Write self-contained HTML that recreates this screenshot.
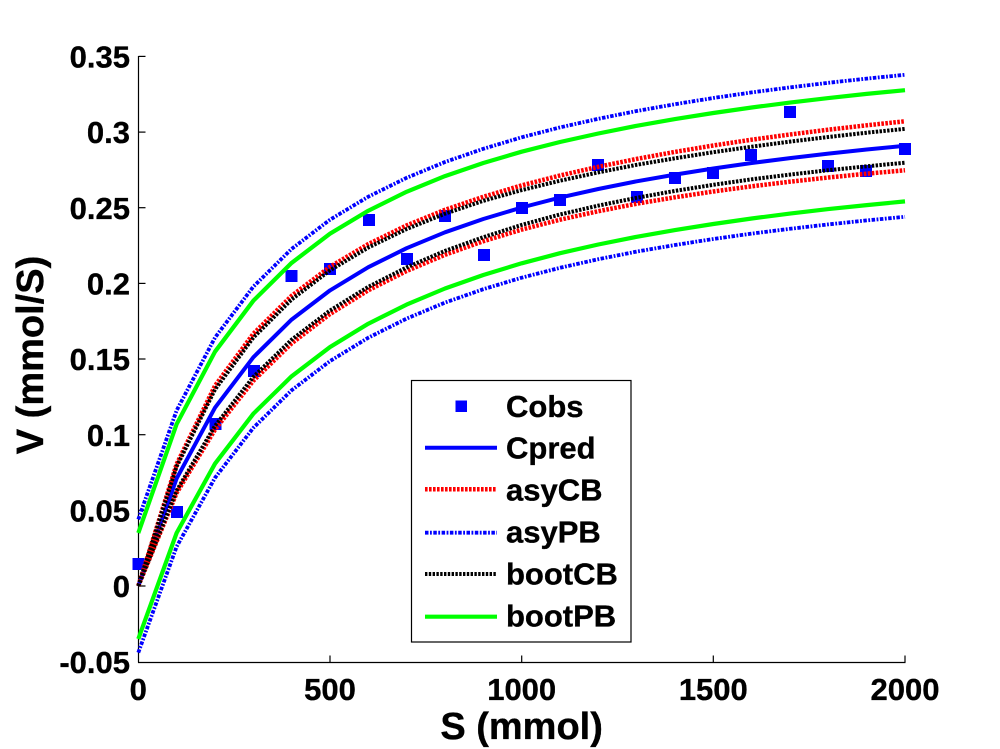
<!DOCTYPE html>
<html>
<head>
<meta charset="utf-8">
<style>
html,body{margin:0;padding:0;background:#fff;}
svg{display:block;}
text{font-family:"Liberation Sans",Arial,sans-serif;font-weight:bold;fill:#000;stroke:#000;stroke-width:0.35px;}
</style>
</head>
<body>
<svg width="1000" height="749" viewBox="0 0 1000 749" xmlns="http://www.w3.org/2000/svg">
<rect x="0" y="0" width="1000" height="749" fill="#fff"/>

<!-- axes -->
<g stroke="#000" stroke-width="1.2" fill="none">
  <line x1="138.5" y1="56" x2="138.5" y2="662.5"/>
  <line x1="138" y1="662.5" x2="905.5" y2="662.5"/>
  <line x1="138.5" y1="56.4" x2="145.5" y2="56.4"/>
  <line x1="138.5" y1="132.1" x2="145.5" y2="132.1"/>
  <line x1="138.5" y1="207.7" x2="145.5" y2="207.7"/>
  <line x1="138.5" y1="283.4" x2="145.5" y2="283.4"/>
  <line x1="138.5" y1="359.0" x2="145.5" y2="359.0"/>
  <line x1="138.5" y1="434.7" x2="145.5" y2="434.7"/>
  <line x1="138.5" y1="510.3" x2="145.5" y2="510.3"/>
  <line x1="138.5" y1="586.0" x2="145.5" y2="586.0"/>
  <line x1="330" y1="662.5" x2="330" y2="655.5"/>
  <line x1="521.7" y1="662.5" x2="521.7" y2="655.5"/>
  <line x1="713.3" y1="662.5" x2="713.3" y2="655.5"/>
  <line x1="905" y1="662.5" x2="905" y2="655.5"/>
</g>

<g font-size="31" text-anchor="end">
  <text x="130" y="67.5">0.35</text>
  <text x="130" y="143.2">0.3</text>
  <text x="130" y="218.8">0.25</text>
  <text x="130" y="294.5">0.2</text>
  <text x="130" y="370.1">0.15</text>
  <text x="130" y="445.8">0.1</text>
  <text x="130" y="521.4">0.05</text>
  <text x="130" y="597.1">0</text>
  <text x="130" y="673">-0.05</text>
</g>
<g font-size="31" text-anchor="middle">
  <text x="138.3" y="700">0</text>
  <text x="330" y="700">500</text>
  <text x="521.7" y="700">1000</text>
  <text x="713.3" y="700">1500</text>
  <text x="905" y="700">2000</text>
</g>

<text x="521.6" y="739" font-size="38" text-anchor="middle">S (mmol)</text>
<text transform="translate(43,355) rotate(-90)" font-size="38" text-anchor="middle">V (mmol/S)</text>

<!-- Cobs markers -->
<g fill="#0000ff">
  <rect x="132.5" y="558" width="12" height="12"/>
  <rect x="171" y="506" width="12" height="12"/>
  <rect x="209.5" y="418" width="12" height="12"/>
  <rect x="248" y="365" width="12" height="12"/>
  <rect x="285.5" y="270" width="12" height="12"/>
  <rect x="324" y="263" width="12" height="12"/>
  <rect x="363" y="214" width="12" height="12"/>
  <rect x="401" y="253" width="12" height="12"/>
  <rect x="439" y="210" width="12" height="12"/>
  <rect x="478" y="249" width="12" height="12"/>
  <rect x="516" y="202" width="12" height="12"/>
  <rect x="554" y="194" width="12" height="12"/>
  <rect x="592" y="159" width="12" height="12"/>
  <rect x="631" y="191" width="12" height="12"/>
  <rect x="669" y="172" width="12" height="12"/>
  <rect x="707" y="167" width="12" height="12"/>
  <rect x="745" y="149" width="12" height="12"/>
  <rect x="784" y="106" width="12" height="12"/>
  <rect x="822" y="160" width="12" height="12"/>
  <rect x="860" y="165" width="12" height="12"/>
  <rect x="899" y="143" width="12" height="12"/>
</g>

<g fill="none" stroke-linejoin="round">
  <polyline stroke="#0000ff" stroke-width="4" points="138.3,586.0 176.6,478.6 215.0,407.7 253.3,357.3 291.6,319.6 330.0,290.4 368.3,267.2 406.6,248.2 445.0,232.3 483.3,219.0 521.7,207.5 560.0,197.6 598.3,189.0 636.7,181.3 675.0,174.6 713.3,168.5 751.7,163.0 790.0,158.1 828.3,153.6 866.7,149.5 905.0,145.8"/>
  <g stroke="#ff0000" stroke-width="4.5" stroke-dasharray="2.6 1.4">
    <polyline points="138.3,586.0 176.6,464.2 215.0,385.8 253.3,333.8 291.6,295.8 330.0,266.8 368.3,244.1 406.6,225.4 445.0,209.8 483.3,196.8 521.7,185.4 560.0,175.5 598.3,166.8 636.7,158.9 675.0,151.9 713.3,145.5 751.7,139.7 790.0,134.5 828.3,129.7 866.7,125.3 905.0,121.3"/>
    <polyline points="138.3,586.0 176.6,493.0 215.0,429.6 253.3,380.8 291.6,343.4 330.0,314.0 368.3,290.3 406.6,271.0 445.0,254.8 483.3,241.2 521.7,229.6 560.0,219.7 598.3,211.2 636.7,203.7 675.0,197.3 713.3,191.5 751.7,186.3 790.0,181.7 828.3,177.5 866.7,173.7 905.0,170.3"/>
  </g>
  <g stroke="#0000ff" stroke-width="3.8" stroke-dasharray="3.5 1.5 1.8 1.5">
    <polyline points="138.3,519.4 176.6,410.5 215.0,337.6 253.3,286.7 291.6,248.9 330.0,219.7 368.3,196.7 406.6,177.8 445.0,162.0 483.3,148.8 521.7,137.3 560.0,127.4 598.3,118.8 636.7,111.0 675.0,104.2 713.3,98.0 751.7,92.4 790.0,87.4 828.3,82.8 866.7,78.6 905.0,74.8"/>
    <polyline points="138.3,652.6 176.6,546.7 215.0,477.8 253.3,427.9 291.6,390.3 330.0,361.1 368.3,337.7 406.6,318.6 445.0,302.6 483.3,289.2 521.7,277.7 560.0,267.8 598.3,259.2 636.7,251.6 675.0,245.0 713.3,239.0 751.7,233.6 790.0,228.8 828.3,224.4 866.7,220.4 905.0,216.8"/>
  </g>
  <g stroke="#000000" stroke-width="4" stroke-dasharray="2.4 1.4">
    <polyline points="138.3,586.0 176.6,466.5 215.0,389.5 253.3,337.6 291.6,299.5 330.0,270.3 368.3,247.5 406.6,229.0 445.0,213.7 483.3,200.8 521.7,190.1 560.0,180.7 598.3,172.4 636.7,164.8 675.0,158.3 713.3,152.2 751.7,146.7 790.0,141.6 828.3,137.0 866.7,132.7 905.0,128.9"/>
    <polyline points="138.3,586.0 176.6,490.7 215.0,425.9 253.3,377.0 291.6,339.7 330.0,310.5 368.3,286.9 406.6,267.4 445.0,250.9 483.3,237.2 521.7,224.9 560.0,214.5 598.3,205.6 636.7,197.8 675.0,190.9 713.3,184.8 751.7,179.3 790.0,174.6 828.3,170.2 866.7,166.3 905.0,162.7"/>
  </g>
  <g stroke="#00ff00" stroke-width="4.2">
    <polyline points="138.3,533.0 176.6,424.2 215.0,351.7 253.3,300.8 291.6,262.9 330.0,233.7 368.3,210.7 406.6,191.8 445.0,176.1 483.3,163.0 521.7,151.7 560.0,142.0 598.3,133.5 636.7,125.8 675.0,119.1 713.3,113.0 751.7,107.5 790.0,102.6 828.3,98.1 866.7,93.9 905.0,90.2"/>
    <polyline points="138.3,639.0 176.6,533.0 215.0,463.7 253.3,413.8 291.6,376.3 330.0,347.1 368.3,323.7 406.6,304.6 445.0,288.5 483.3,275.0 521.7,263.3 560.0,253.2 598.3,244.5 636.7,236.8 675.0,230.1 713.3,224.0 751.7,218.5 790.0,213.6 828.3,209.1 866.7,205.1 905.0,201.4"/>
  </g>
</g>

<!-- legend -->
<rect x="411.5" y="380.5" width="219.5" height="261.5" fill="#fff" stroke="#000" stroke-width="1.2"/>
<rect x="455.5" y="400.5" width="11.5" height="11.5" fill="#0000ff"/>
<line x1="425" y1="447.7" x2="497" y2="447.7" stroke="#0000ff" stroke-width="4"/>
<line x1="425" y1="489.3" x2="497" y2="489.3" stroke="#ff0000" stroke-width="4.5" stroke-dasharray="2.6 1.4"/>
<line x1="425" y1="532.7" x2="497" y2="532.7" stroke="#0000ff" stroke-width="3.8" stroke-dasharray="3.5 1.5 1.8 1.5"/>
<line x1="425" y1="574" x2="497" y2="574" stroke="#000" stroke-width="4" stroke-dasharray="2.4 1.4"/>
<line x1="425" y1="616.7" x2="497" y2="616.7" stroke="#00ff00" stroke-width="4.2"/>
<g font-size="31">
  <text x="506" y="417">Cobs</text>
  <text x="506" y="458.5">Cpred</text>
  <text x="506" y="500.3">asyCB</text>
  <text x="506" y="542.5">asyPB</text>
  <text x="506" y="584.5">bootCB</text>
  <text x="506" y="626.5">bootPB</text>
</g>
</svg>
</body>
</html>
